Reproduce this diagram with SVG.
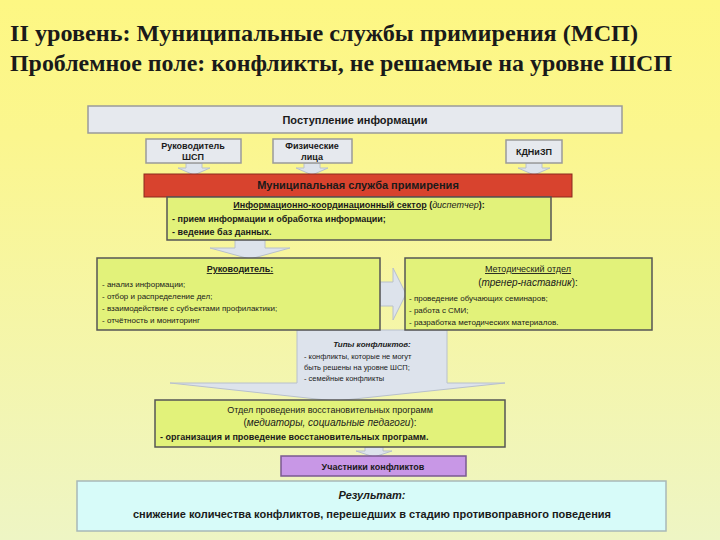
<svg xmlns="http://www.w3.org/2000/svg" width="720" height="540" viewBox="0 0 720 540">
<defs>
<linearGradient id="bg" x1="0" y1="0" x2="0" y2="1"><stop offset="0" stop-color="#fdf783"/><stop offset="0.25" stop-color="#fbf68e"/><stop offset="1" stop-color="#eef5c4"/></linearGradient>
<style>
text{font-family:"Liberation Sans",Arial,sans-serif;fill:#1a1a1a}
.t{font-family:"Liberation Serif","Times New Roman",serif;font-weight:bold;font-size:24px}
.b{font-weight:bold}
.gray{fill:#e6e9ee;stroke:#9a9a9a;stroke-width:1.5}
.grn{fill:#e2f27a;stroke:#555;stroke-width:1.5}
.arr{fill:#dde3ec;stroke:#b8c0cc;stroke-width:1}
</style>
</defs>
<rect width="720" height="540" fill="url(#bg)"/>
<text class="t" x="10" y="41" textLength="628" lengthAdjust="spacingAndGlyphs">II уровень: Муниципальные службы примирения (МСП)</text>
<text class="t" x="10" y="71" textLength="662" lengthAdjust="spacingAndGlyphs">Проблемное поле: конфликты, не решаемые на уровне ШСП</text>
<g id="connectors">
<polygon class="arr" points="186,163 202,163 202,168 210,168 194,175 178,168 186,168"/>
<polygon class="arr" points="304,163 320,163 320,168 328,168 312,175 296,168 304,168"/>
<polygon class="arr" points="526,163 542,163 542,168 550,168 534,175 518,168 526,168"/>
<polygon class="arr" points="235,240 265,240 265,248 290,248 250,259 210,248 235,248"/>
<polygon class="arr" points="380,282 393,282 393,268 406,294 393,320 393,306 380,306"/>
<polygon class="arr" points="170,383 297,383 297,330 447,330 447,383 505,383 335,401"/>
<polygon class="arr" points="365,447 383,447 383,451 392,451 374,457 356,451 365,451"/>
</g>
<g id="n-info"><rect class="gray" x="88" y="106" width="534" height="27"/><text class="b" x="355" y="124" font-size="11" text-anchor="middle">Поступление информации</text></g>
<g id="n-head-shsp"><rect class="gray" x="146" y="139" width="95" height="24"/><text class="b" x="193" y="149" font-size="9" text-anchor="middle">Руководитель</text><text class="b" x="193" y="160" font-size="9" text-anchor="middle">ШСП</text></g>
<g id="n-phys"><rect class="gray" x="273" y="139" width="79" height="24"/><text class="b" x="312" y="149" font-size="9" text-anchor="middle">Физические</text><text class="b" x="312" y="160" font-size="9" text-anchor="middle">лица</text></g>
<g id="n-kdn"><rect class="gray" x="506" y="140" width="56" height="23"/><text class="b" x="534" y="155" font-size="9" text-anchor="middle">КДНиЗП</text></g>
<g id="n-msp"><rect x="144" y="174" width="428" height="23" fill="#d8432e" stroke="#8a2a1e"/><text class="b" x="358" y="189" font-size="11" text-anchor="middle">Муниципальная  служба примирения</text></g>
<g id="n-sector"><rect class="grn" x="167" y="197" width="384" height="43"/>
<text class="b" x="359" y="208" font-size="9" text-anchor="middle"><tspan text-decoration="underline">Информационно-координационный сектор</tspan> (<tspan font-style="italic" font-weight="normal">диспетчер</tspan>):</text>
<text class="b" x="172" y="222" font-size="9">- прием информации и обработка  информации;</text>
<text class="b" x="172" y="235" font-size="9">- ведение баз данных.</text></g>
<g id="n-head"><rect class="grn" x="97" y="258" width="283" height="72"/>
<text class="b" x="240" y="272" font-size="9" text-anchor="middle" text-decoration="underline">Руководитель:</text>
<text x="102" y="287" font-size="8">- анализ информации;</text>
<text x="102" y="299" font-size="8">- отбор и распределение дел;</text>
<text x="102" y="311" font-size="8">- взаимодействие с субъектами профилактики;</text>
<text x="102" y="323" font-size="8">- отчётность и мониторинг</text></g>
<g id="n-method"><rect class="grn" x="405" y="258" width="247" height="72"/>
<text x="528" y="272" font-size="9" text-anchor="middle" text-decoration="underline">Методический отдел</text>
<text x="528" y="286" font-size="10" text-anchor="middle">(<tspan font-style="italic">тренер-наставник</tspan>):</text>
<text x="409" y="301" font-size="8">- проведение обучающих семинаров;</text>
<text x="409" y="313" font-size="8">- работа  с СМИ;</text>
<text x="409" y="325" font-size="8">- разработка методических материалов.</text></g>
<g id="n-types">
<text x="372" y="347" font-size="8" font-style="italic" font-weight="bold" text-anchor="middle">Типы конфликтов:</text>
<text x="304" y="359" font-size="7.5">- конфликты, которые не могут</text>
<text x="304" y="370" font-size="7.5">быть решены на уровне ШСП;</text>
<text x="304" y="381" font-size="7.5">- семейные конфликты</text></g>
<g id="n-dept"><rect class="grn" x="155" y="400" width="350" height="47"/>
<text x="330" y="413" font-size="9" text-anchor="middle">Отдел проведения восстановительных программ</text>
<text x="330" y="426" font-size="10" text-anchor="middle">(<tspan font-style="italic">медиаторы, социальные педагоги</tspan>):</text>
<text class="b" x="160" y="440" font-size="9">- организация и проведение восстановительных  программ.</text></g>
<g id="n-part"><rect x="281" y="456" width="185" height="20" fill="#c897e6" stroke="#7a5a90" stroke-width="1.5"/><text class="b" x="373" y="470" font-size="9" text-anchor="middle">Участники конфликтов</text></g>
<g id="n-result"><rect x="77" y="481" width="589" height="50" fill="#d7fbf9" stroke="#a8b8b8" stroke-width="1.5"/>
<text class="b" x="372" y="499" font-size="11" font-style="italic" text-anchor="middle">Результат:</text>
<text class="b" x="372" y="518" font-size="11" text-anchor="middle">снижение количества конфликтов, перешедших в стадию противоправного поведения</text></g>
</svg>
